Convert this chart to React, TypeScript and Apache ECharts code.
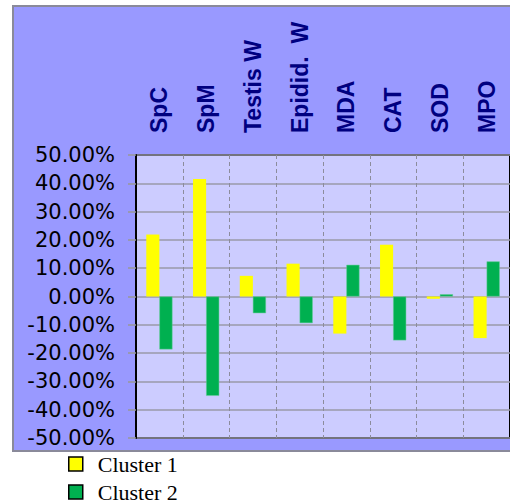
import React, { useEffect, useRef } from "react";
import * as echarts from "echarts";

const categories = ["SpC", "SpM", "Testis W", "Epidid.  W", "MDA", "CAT", "SOD", "MPO"];
const cluster1 = [21.9, 41.5, 7.3, 11.6, -13.1, 18.3, -0.8, -14.7];
const cluster2 = [-18.7, -35.1, -5.9, -9.4, 11.2, -15.5, 0.8, 12.4];
const seriesNames = ["Cluster 1", "Cluster 2"];
const yMin = -50;
const yMax = 50;
const yStep = 10;

export default function App() {
  const ref = useRef<HTMLDivElement>(null);
  useEffect(() => {
    if (!ref.current) return;
    const chart = echarts.init(ref.current, null, { renderer: "svg" });
    const legendBase = {
      orient: "vertical",
      left: 68,
      padding: 0,
      itemWidth: 14,
      itemHeight: 14,
      icon: "rect",
      itemStyle: { borderColor: "#000", borderWidth: 1.5 },
      textStyle: {
        fontFamily: "Liberation Serif",
        fontSize: 22,
        color: "#000",
        padding: [0, 0, 0, 10],
      },
    };
    chart.setOption({
      animation: false,
      backgroundColor: "#ffffff",
      graphic: [
        {
          type: "rect",
          z: -100,
          shape: { x: 13, y: 6, width: 510, height: 445 },
          style: { fill: "#9999FF", stroke: "#8a8a9a", lineWidth: 2 },
        },
      ],
      grid: {
        left: 136,
        top: 155,
        right: -8,
        bottom: 66,
        show: true,
        backgroundColor: "#CCCCFF",
        borderColor: "#000000",
        borderWidth: 2,
      },
      legend: [
        { ...legendBase, top: 453, data: [seriesNames[0]] },
        { ...legendBase, top: 481, data: [seriesNames[1]] },
      ],
      xAxis: {
        type: "category",
        data: categories,
        position: "top",
        axisLine: { show: false, onZero: false },
        axisTick: { show: false },
        axisLabel: {
          rotate: -90,
          margin: 22,
          interval: 0,
          color: "#000080",
          fontWeight: "bold",
          fontSize: 23,
          fontFamily: "Liberation Sans",
        },
        splitLine: {
          show: true,
          lineStyle: { color: "#8c8c9c", type: [4, 3], width: 1 },
        },
      },
      yAxis: {
        type: "value",
        min: yMin,
        max: yMax,
        interval: yStep,
        axisLine: { show: true, lineStyle: { color: "#000", width: 2 } },
        axisTick: { show: true, length: 8, lineStyle: { color: "#999", width: 1.5 } },
        axisLabel: {
          margin: 21,
          color: "#000",
          fontSize: 21,
          fontFamily: "DejaVu Sans",
          formatter: (v: number) => v.toFixed(2) + "%",
        },
        splitLine: { show: true, lineStyle: { color: "#9a9aa8", width: 1.5 } },
      },
      series: [
        {
          name: seriesNames[0],
          type: "bar",
          data: cluster1,
          barGap: "0%",
          barCategoryGap: "44%",
          itemStyle: { color: "#FFFF00" },
        },
        {
          name: seriesNames[1],
          type: "bar",
          data: cluster2,
          barGap: "0%",
          barCategoryGap: "44%",
          itemStyle: { color: "#00B050", borderColor: "#66CC99", borderWidth: 0.5 },
        },
      ],
    });
    return () => chart.dispose();
  }, []);
  return (
    <div
      ref={ref}
      style={{ position: "fixed", left: 0, top: 0, width: 510, height: 504 }}
    />
  );
}
